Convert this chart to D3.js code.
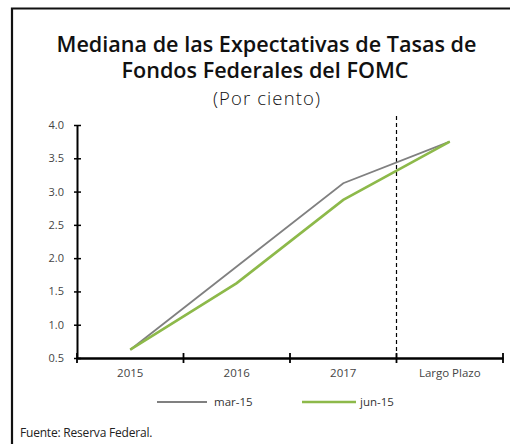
<!DOCTYPE html>
<html><head><meta charset="utf-8">
<script src="https://cdn.jsdelivr.net/npm/d3@7"></script>
<style>html,body{margin:0;background:#fff;overflow:hidden;} svg{display:block;}</style>
</head><body>
<svg id="c" width="510" height="444"></svg>
<script>
const categories = ["2015","2016","2017","Largo Plazo"];
const seriesNames = ["mar-15","jun-15"];
const mar15 = [0.625, 1.875, 3.125, 3.75];
const jun15 = [0.625, 1.625, 2.875, 3.75];
const yTicks = [0.5,1.0,1.5,2.0,2.5,3.0,3.5,4.0];
const colors = ["#808080","#8DB94A"];

const svg = d3.select("#c");
const font = "'Open Sans', sans-serif";

// frame (top and left edges; right/bottom fall outside the picture)
svg.append("path").attr("d","M12,444 V8.5 H510")
  .attr("fill","none").attr("stroke","#111").attr("stroke-width",2.2);

// titles
svg.append("text").attr("x",266.5).attr("y",51.5).attr("text-anchor","middle")
  .attr("font-family",font).attr("font-weight","600").attr("font-size",21.6).attr("fill","#111")
  .text("Mediana de las Expectativas de Tasas de");
svg.append("text").attr("x",265).attr("y",78).attr("text-anchor","middle")
  .attr("font-family",font).attr("font-weight","600").attr("font-size",21.6).attr("fill","#111")
  .text("Fondos Federales del FOMC");
svg.append("text").attr("x",267).attr("y",104.5).attr("text-anchor","middle")
  .attr("font-family",font).attr("font-weight","300").attr("font-size",18.5).attr("letter-spacing",1.1).attr("fill","#111")
  .text("(Por ciento)");

const x = d3.scaleBand().domain(categories).range([77,503]);
const y = d3.scaleLinear().domain([0.5,4.0]).range([358,125]);

// y axis
const yAxis = svg.append("g").attr("transform","translate(77,0)")
  .call(d3.axisLeft(y).tickValues(yTicks).tickFormat(d3.format(".1f")).tickSizeInner(4).tickSizeOuter(0).tickPadding(9));
yAxis.select(".domain").attr("stroke","#000").attr("stroke-width",2);
yAxis.selectAll(".tick line").attr("stroke","#000").attr("stroke-width",1.5).attr("x2",4).attr("x1",-3);
yAxis.selectAll(".tick text").attr("font-family",font).attr("font-size",11).attr("fill","#444");

// dashed line
svg.append("line").attr("x1",x("Largo Plazo")).attr("x2",x("Largo Plazo"))
  .attr("y1",116).attr("y2",358).attr("stroke","#000").attr("stroke-width",1.2).attr("stroke-dasharray","4,3");

// x axis
const xAxis = svg.append("g").attr("transform","translate(0,358)")
  .call(d3.axisBottom(x).tickSize(0).tickPadding(11));
xAxis.select(".domain").attr("stroke","#000").attr("stroke-width",2.5);
xAxis.selectAll(".tick text").attr("font-family",font).attr("font-size",11.5).attr("fill","#444");
const bounds = categories.map(c=>x(c)).concat([x.range()[1]]);
svg.append("g").selectAll("line").data(bounds).join("line")
  .attr("x1",d=>d).attr("x2",d=>d).attr("y1",353).attr("y2",363)
  .attr("stroke","#000").attr("stroke-width",1.8);

// lines
const line = d3.line().x((d,i)=>x(categories[i])+x.bandwidth()/2).y(d=>y(d));
svg.append("path").datum(mar15).attr("d",line).attr("fill","none").attr("stroke",colors[0]).attr("stroke-width",1.8);
svg.append("path").datum(jun15).attr("d",line).attr("fill","none").attr("stroke",colors[1]).attr("stroke-width",2.6);

// legend
const leg = [{x1:157,x2:207,tx:214,w:1.8},{x1:302,x2:356,tx:360,w:2.6}];
leg.forEach((l,i)=>{
  svg.append("line").attr("x1",l.x1).attr("x2",l.x2).attr("y1",402).attr("y2",402)
    .attr("stroke",colors[i]).attr("stroke-width",l.w);
  svg.append("text").attr("x",l.tx).attr("y",406).attr("font-family",font).attr("font-size",11.5)
    .attr("fill","#333").text(seriesNames[i]);
});

svg.append("text").attr("x",20).attr("y",437).attr("font-family",font).attr("font-size",12)
  .attr("fill","#222").attr("letter-spacing",-0.2).text("Fuente: Reserva Federal.");
</script>
</body></html>
